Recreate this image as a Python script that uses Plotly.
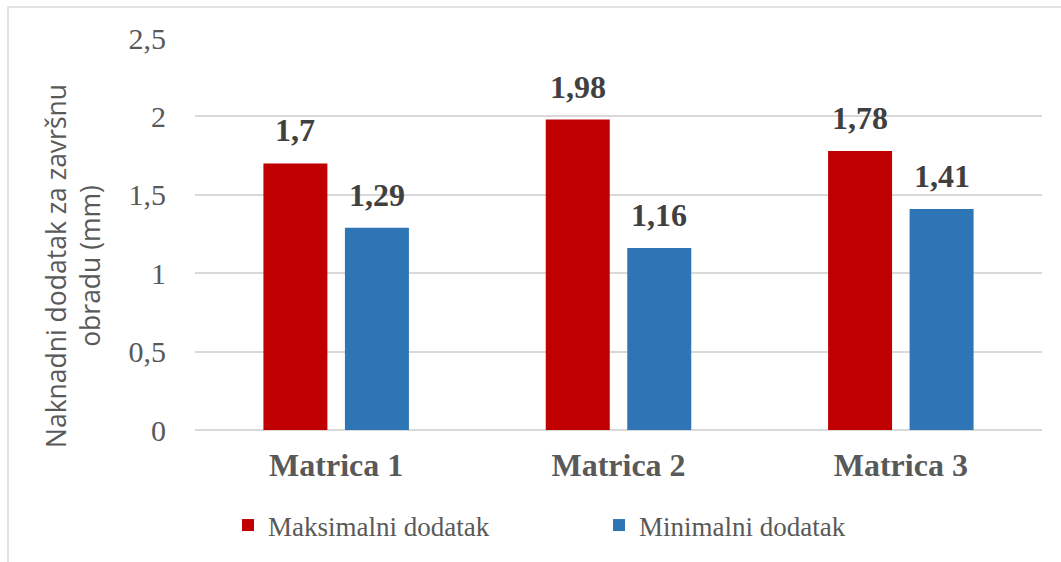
import plotly.graph_objects as go

# Data
categories = ["Matrica 1", "Matrica 2", "Matrica 3"]
max_dodatak = [1.7, 1.98, 1.78]
min_dodatak = [1.29, 1.16, 1.41]
y_ticks = [0, 0.5, 1, 1.5, 2, 2.5]
y_tick_labels = ["0", "0,5", "1", "1,5", "2", "2,5"]

RED = "#C00000"
BLUE = "#2E75B6"
SERIF = "Times New Roman, Liberation Serif, serif"
SANS = "Open Sans, Noto Sans, sans-serif"

W, H = 1061, 562
ML, MR, MT, MB = 195, 19, 38, 132
PW, PH = W - ML - MR, H - MT - MB

fig = go.Figure()
fig.add_trace(go.Bar(name="Maksimalni dodatak", x=categories, y=max_dodatak,
                     marker=dict(color=RED, line=dict(width=0))))
fig.add_trace(go.Bar(name="Minimalni dodatak", x=categories, y=min_dodatak,
                     marker=dict(color=BLUE, line=dict(width=0))))

# value labels above each bar
BARGAP = 0.4226
slot_px = PW / len(categories) * (1 - BARGAP) / 2
annotations = []
for series, shift in ((max_dodatak, -slot_px / 2), (min_dodatak, slot_px / 2)):
    for cat, v in zip(categories, series):
        annotations.append(dict(
            x=cat, y=v, xref="x", yref="y", xshift=shift, yshift=13,
            yanchor="bottom", showarrow=False,
            text=f"{v:g}".replace(".", ","),
            font=dict(family=SERIF, size=32, color="#404040", weight="bold"),
        ))

# axis title
annotations.append(dict(
    x=(73 - ML) / PW, y=(430 - 266) / PH,
    xref="paper", yref="paper", xanchor="center", yanchor="middle",
    textangle=-90, showarrow=False,
    text="Naknadni dodatak za završnu<br>obradu (mm)",
    font=dict(family=SANS, size=26.5, color="#595959"),
))

fig.update_layout(
    width=W, height=H,
    margin=dict(l=ML, r=MR, t=MT, b=MB, autoexpand=False),
    paper_bgcolor="white", plot_bgcolor="white",
    barmode="group", bargap=BARGAP, bargroupgap=0.215,
    annotations=annotations,
    showlegend=True,
    legend=dict(orientation="h", x=(599 - ML) / PW, xanchor="center",
                y=(430 - 501) / PH, yanchor="top",
                font=dict(family=SERIF, size=27, color="#595959"),
                itemwidth=30, entrywidth=326),
    shapes=[dict(type="rect", xref="paper", yref="paper",
                 x0=(8 - ML) / PW, x1=1.2,
                 y0=-0.6, y1=(430 - 7) / PH,
                 line=dict(color="#D9D9D9", width=1.5), layer="below")],
)

fig.update_xaxes(
    showgrid=False, showline=False, zeroline=False, ticks="",
    tickfont=dict(family=SERIF, size=32, color="#595959", weight="bold"),
    ticklabelstandoff=13, automargin=False,
)
fig.update_yaxes(
    range=[0, 2.5], tickvals=y_ticks, ticktext=y_tick_labels,
    showgrid=True, gridcolor="#D9D9D9", gridwidth=1.5,
    zeroline=True, zerolinecolor="#D9D9D9", zerolinewidth=1.5,
    showline=False, ticks="",
    tickfont=dict(family=SERIF, size=30, color="#595959"),
    ticklabelstandoff=28, automargin=False,
)

fig.write_html("out.html")
